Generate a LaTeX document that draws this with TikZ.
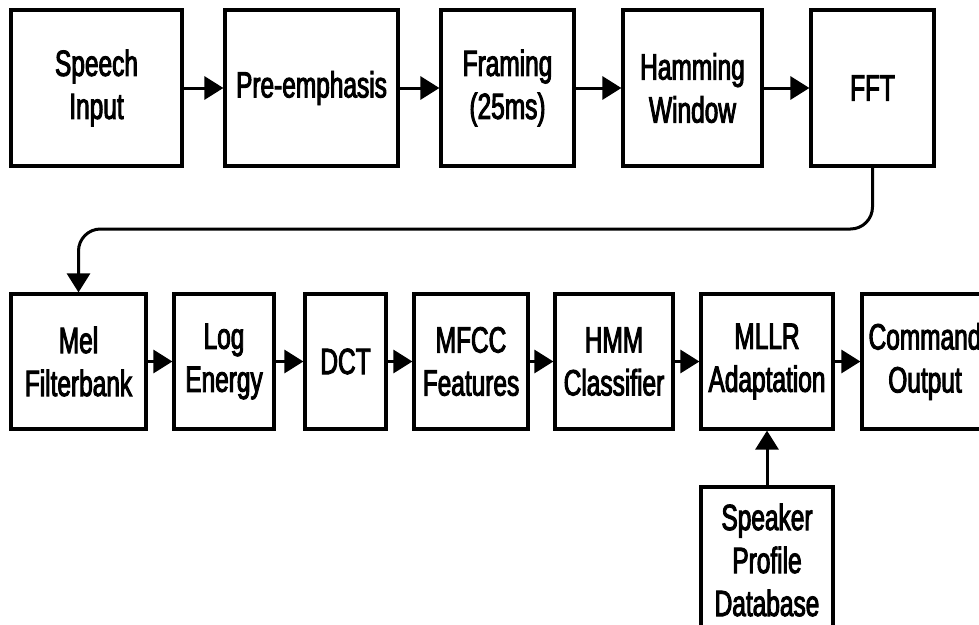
\documentclass[tikz,border=0pt]{standalone}
\usepackage{fontspec}
\newfontfamily\blockfont[FakeStretch=0.67,FakeBold=2.6]{Liberation Sans}
\usetikzlibrary{arrows.meta}
\begin{document}
\begin{tikzpicture}[x=1pt,y=-1pt,
  block/.style={draw,line width=3.2pt,fill=white,align=center,inner sep=0pt,
    font=\blockfont\fontsize{36.5pt}{43pt}\selectfont},
  flow/.style={line width=3pt,-{Triangle[length=19pt,width=23pt]}}]
\useasboundingbox[fill=white] (0,0) rectangle (979,624);
% front end
\node[block,minimum width=171pt,minimum height=156pt] (speech) at (96.5,88) {Speech\\Input};
\node[block,minimum width=173pt,minimum height=156pt] (preemph) at (311.5,88) {Pre-emphasis};
\node[block,minimum width=133pt,minimum height=156pt] (framing) at (507.5,88) {Framing\\(25ms)};
\node[block,minimum width=139pt,minimum height=156pt] (hamming) at (692.5,88) {Hamming\\Window};
\node[block,minimum width=123pt,minimum height=156pt] (fft) at (872.5,88) {FFT};
% feature extraction and recognition
\node[block,minimum width=135pt,minimum height=135pt] (mel) at (78.5,361.5) {Mel\\Filterbank};
\node[block,minimum width=100pt,minimum height=135pt] (logen) at (224,361.5) {Log\\Energy};
\node[block,minimum width=81pt,minimum height=135pt] (dct) at (345.5,361.5) {DCT};
\node[block,minimum width=114pt,minimum height=135pt] (mfcc) at (471,361.5) {MFCC\\Features};
\node[block,minimum width=118pt,minimum height=135pt] (hmm) at (614,361.5) {HMM\\Classifier};
\node[block,minimum width=132pt,minimum height=135pt] (mllr) at (767,361.5) {MLLR\\Adaptation};
\node[block,minimum width=126pt,minimum height=135pt] (cmd) at (925,361.5) {Command\\Output};
\node[block,minimum width=132pt,minimum height=146pt] (speaker) at (767,560) {Speaker\\Profile\\Database};
\coordinate (bend) at (0,229);
\draw[flow] (speech) -- (preemph);
\draw[flow] (preemph) -- (framing);
\draw[flow] (framing) -- (hamming);
\draw[flow] (hamming) -- (fft);
\draw[flow,rounded corners=22pt] (fft.south) |- (bend -| mel.north) -- (mel.north);
\draw[flow] (mel) -- (logen);
\draw[flow] (logen) -- (dct);
\draw[flow] (dct) -- (mfcc);
\draw[flow] (mfcc) -- (hmm);
\draw[flow] (hmm) -- (mllr);
\draw[flow] (mllr) -- (cmd);
\draw[flow] (speaker) -- (mllr);
\end{tikzpicture}
\end{document}
